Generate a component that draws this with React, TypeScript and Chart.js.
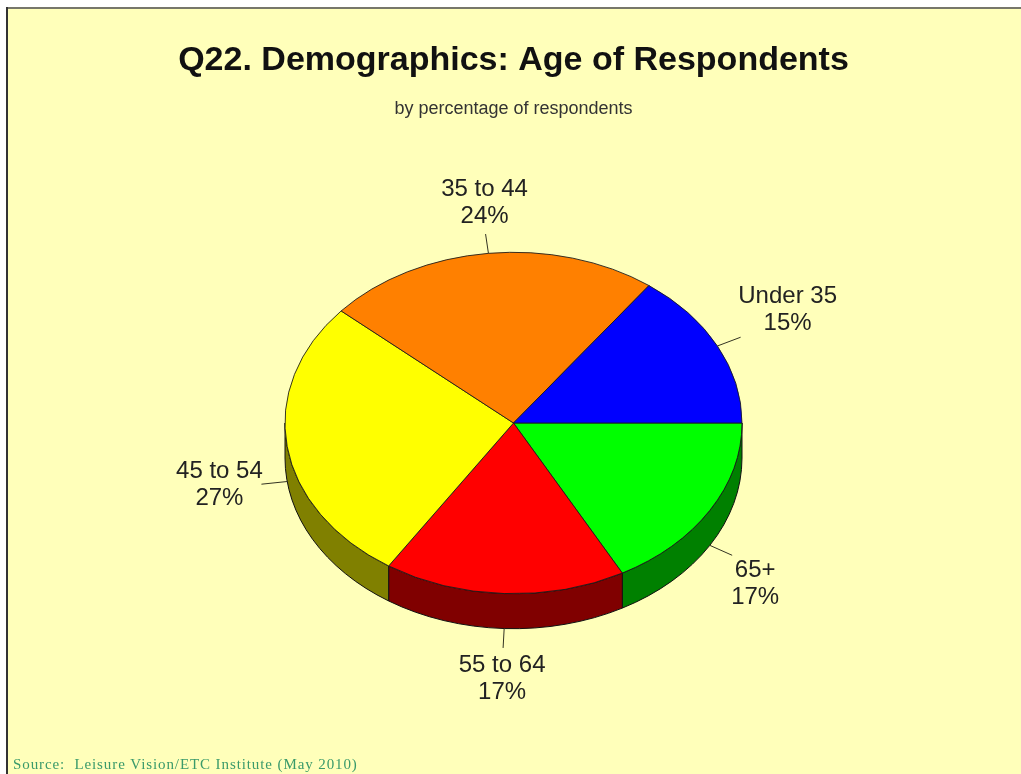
import React, { useEffect, useRef } from "react";
import { Chart, registerables } from "chart.js";

Chart.register(...registerables);

const categories = ["65+", "55 to 64", "45 to 54", "35 to 44", "Under 35"];
const percentages = [17.1, 17.1, 27.2, 23.7, 14.9];
const topColors = ["#00FF00", "#FF0000", "#FFFF00", "#FF8000", "#0000FF"];
const sideColors = ["#008000", "#800000", "#808000", "#804000", "#000080"];
const labelOffsets = [
  [23, 28.5],
  [-1, 31],
  [-42, 0.5],
  [-1, -31],
  [47, -27.5],
];
const titleText = "Q22. Demographics: Age of Respondents";
const subtitleText = "by percentage of respondents";
const sourceText = "Source:  Leisure Vision/ETC Institute (May 2010)";

const TILT = 0.747;
const DEPTH = 35;
const LEADER = 26;

const framePlugin = {
  id: "frame",
  beforeDraw(chart: any) {
    const { ctx, width, height } = chart;
    ctx.save();
    ctx.fillStyle = "#FFFFFF";
    ctx.fillRect(0, 0, width, height);
    ctx.fillStyle = "#FFFFBA";
    ctx.fillRect(7, 9, width - 7, height - 9);
    ctx.fillStyle = "#77776A";
    ctx.fillRect(6, 7, width - 6, 2);
    ctx.fillStyle = "#333333";
    ctx.fillRect(6, 7, 2, height - 7);
    ctx.font = '15px "Liberation Serif"';
    (ctx as any).letterSpacing = "0.9px";
    ctx.fillStyle = "#3A9A6A";
    ctx.textAlign = "left";
    ctx.textBaseline = "alphabetic";
    ctx.fillText(sourceText, 13, 769);
    (ctx as any).letterSpacing = "0px";
    ctx.restore();
  },
};

const pie3dPlugin = {
  id: "pie3d",
  beforeDatasetsDraw(chart: any) {
    const { ctx } = chart;
    const arcs = chart.getDatasetMeta(0).data;
    const cx = arcs[0].x;
    const cy = arcs[0].y;
    const r = arcs[0].outerRadius;
    const ry = r * TILT;
    ctx.save();
    arcs.forEach((arc: any, i: number) => {
      const a = arc.startAngle;
      const b = arc.endAngle;
      // Visible rim: only the front half (canvas angles 0..PI)
      const ranges: number[][] = [];
      for (const k of [-2, 0, 2]) {
        const lo = Math.max(a, k * Math.PI);
        const hi = Math.min(b, k * Math.PI + Math.PI);
        if (hi > lo) ranges.push([lo, hi]);
      }
      ranges.forEach(([lo, hi]) => {
        ctx.beginPath();
        ctx.ellipse(cx, cy, r, ry, 0, lo, hi, false);
        ctx.ellipse(cx, cy + DEPTH, r, ry, 0, hi, lo, true);
        ctx.closePath();
        ctx.fillStyle = sideColors[i];
        ctx.fill();
        ctx.lineWidth = 1;
        ctx.strokeStyle = "#111111";
        ctx.stroke();
      });
    });
    ctx.restore();
    ctx.save();
    ctx.translate(0, cy);
    ctx.scale(1, TILT);
    ctx.translate(0, -cy);
  },
  afterDatasetsDraw(chart: any) {
    const { ctx } = chart;
    ctx.restore();
    const arcs = chart.getDatasetMeta(0).data;
    ctx.save();
    ctx.textAlign = "center";
    ctx.textBaseline = "middle";
    arcs.forEach((arc: any, i: number) => {
      const m = (arc.startAngle + arc.endAngle) / 2;
      const c = Math.cos(m);
      const s = Math.sin(m);
      const drop = s > 0 ? DEPTH : 0;
      const r = arc.outerRadius;
      const x0 = arc.x + r * c;
      const y0 = arc.y + r * TILT * s + drop;
      const x1 = arc.x + (r + LEADER) * c;
      const y1 = arc.y + (r + LEADER) * TILT * s + drop;
      ctx.beginPath();
      ctx.moveTo(x0, y0);
      ctx.lineTo(x1, y1);
      ctx.lineWidth = 1;
      ctx.strokeStyle = "#333322";
      ctx.stroke();
      const tx = x1 + labelOffsets[i][0];
      const ty = y1 + labelOffsets[i][1];
      ctx.fillStyle = "#222222";
      ctx.font = '24px "Liberation Sans"';
      ctx.fillText(chart.data.labels[i], tx, ty - 13.5);
      ctx.fillText(`${Math.round(percentages[i])}%`, tx, ty + 13.5);
    });
    ctx.restore();
  },
};

export default function App() {
  const ref = useRef<HTMLCanvasElement>(null);
  useEffect(() => {
    const chart = new Chart(ref.current!, {
      type: "pie",
      data: {
        labels: categories,
        datasets: [
          {
            data: percentages,
            backgroundColor: topColors,
            borderColor: "#1a1a1a",
            borderWidth: 1,
          },
        ],
      },
      options: {
        responsive: false,
        animation: false,
        rotation: 90,
        layout: { padding: { left: 6, bottom: 122 } },
        plugins: {
          legend: { display: false },
          tooltip: { enabled: false },
          title: {
            display: true,
            text: titleText,
            color: "#111111",
            font: { family: '"Liberation Sans"', size: 34, weight: "bold" },
            padding: { top: 40.6, bottom: 16.8 },
          },
          subtitle: {
            display: true,
            text: subtitleText,
            color: "#333333",
            font: { family: '"Liberation Sans"', size: 18, weight: "normal" },
            padding: { top: 0, bottom: 74.2 },
          },
        },
      },
      plugins: [framePlugin, pie3dPlugin],
    } as any);
    return () => chart.destroy();
  }, []);
  return (
    <div style={{ position: "absolute", left: 0, top: 0, width: 1021, height: 774 }}>
      <canvas ref={ref} width={1021} height={774} style={{ display: "block" }} />
    </div>
  );
}
